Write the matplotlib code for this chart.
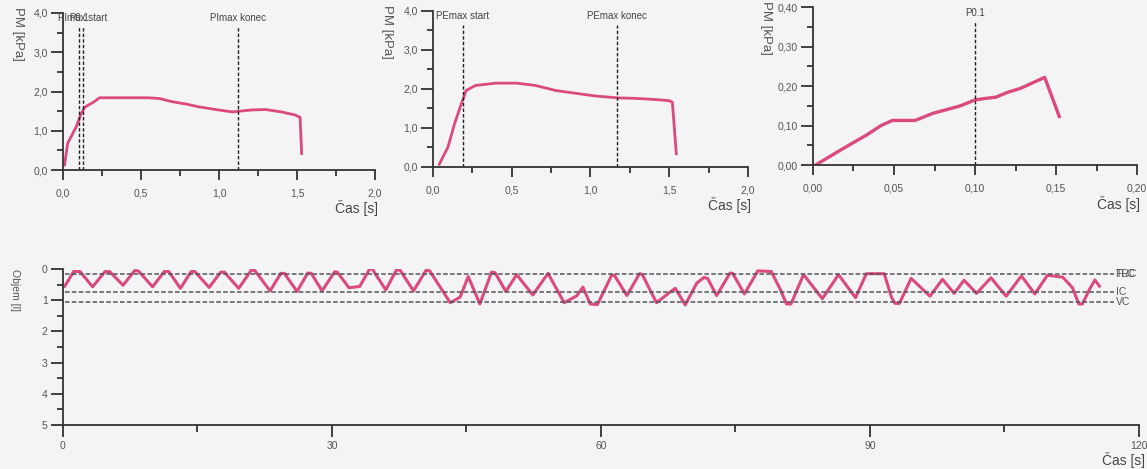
import numpy as np
import matplotlib
matplotlib.use("Agg")
import matplotlib.pyplot as plt
from matplotlib.ticker import MultipleLocator, FuncFormatter

plt.rcParams['font.family'] = ['Liberation Sans', 'DejaVu Sans']

PINK = '#dc4a7d'
GRAY = '#555555'
BG = '#f4f4f6'

# PImax (inspiracni tlak)
pi_t = [0.01, 0.03, 0.085, 0.117, 0.14, 0.20, 0.234, 0.40, 0.55, 0.62, 0.70, 0.79,
        0.87, 0.98, 1.085, 1.21, 1.30, 1.40, 1.49, 1.52, 1.53]
pi_p = [0.13, 0.68, 1.10, 1.44, 1.60, 1.74, 1.84, 1.84, 1.84, 1.82, 1.74, 1.68,
        1.61, 1.54, 1.48, 1.53, 1.54, 1.48, 1.40, 1.34, 0.42]
pi_marks = [0.103, 0.126, 1.124]
pi_labels = ['P0.1', 'PImax start', 'PImax konec']

# PEmax (expiracni tlak)
pe_t = [0.04, 0.095, 0.137, 0.18, 0.21, 0.27, 0.40, 0.53, 0.65, 0.78, 0.905, 1.03,
        1.18, 1.28, 1.41, 1.50, 1.52, 1.545]
pe_p = [0.07, 0.51, 1.11, 1.62, 1.96, 2.09, 2.15, 2.15, 2.09, 1.96, 1.89, 1.82,
        1.77, 1.76, 1.73, 1.70, 1.66, 0.34]
pe_marks = [0.19, 1.17]
pe_labels = ['PEmax start', 'PEmax konec']

# P0.1
p01_t = [0.0015, 0.017, 0.033, 0.042, 0.049, 0.063, 0.074, 0.083, 0.091, 0.100,
         0.107, 0.113, 0.120, 0.128, 0.136, 0.143, 0.152]
p01_p = [0.0, 0.038, 0.076, 0.100, 0.113, 0.113, 0.131, 0.141, 0.150, 0.165,
         0.169, 0.172, 0.184, 0.194, 0.209, 0.222, 0.123]

# objem v case
vol_t = [0.2, 1.2, 1.9, 3.3, 4.7, 5.2, 6.7, 8.0, 8.4, 10.0, 11.3, 11.8, 13.1, 14.3, 14.7,
         16.3, 17.6, 18.0, 19.6, 21.0, 21.4, 23.1, 24.3, 24.7, 26.1, 27.3, 27.7, 28.9,
         30.3, 30.6, 31.9, 33.1, 34.2, 34.5, 36.0, 37.2, 37.6, 39.1, 40.5, 40.9, 43.2,
         44.3, 45.2, 46.5, 47.8, 48.2, 49.4, 50.6, 52.4, 54.1, 55.9, 57.3, 58.0, 58.8,
         59.6, 61.2, 61.5, 62.9, 64.3, 64.6, 66.2, 67.8, 68.3, 69.4, 70.7, 71.5, 71.9,
         72.9, 74.4, 74.7, 76.0, 77.5, 79.0, 80.0, 80.7, 81.2, 82.6, 84.7, 86.5, 88.4,
         89.6, 91.6, 92.4, 92.8, 93.3, 94.6, 96.7, 98.1, 99.4, 100.5, 101.9, 103.5,
         105.2, 106.9, 108.4, 109.8, 111.5, 112.6, 113.3, 113.7, 114.5, 115.1, 115.6]
vol_v = [0.55, 0.08, 0.08, 0.57, 0.08, 0.08, 0.52, 0.05, 0.06, 0.57, 0.08, 0.08, 0.62, 0.08,
         0.08, 0.59, 0.10, 0.10, 0.62, 0.04, 0.05, 0.70, 0.14, 0.14, 0.72, 0.13, 0.14,
         0.70, 0.09, 0.10, 0.60, 0.56, 0.00, 0.00, 0.67, 0.03, 0.04, 0.70, 0.04, 0.06,
         1.08, 0.90, 0.24, 1.12, 0.10, 0.12, 0.72, 0.18, 0.83, 0.14, 1.08, 0.86, 0.58,
         1.12, 1.14, 0.20, 0.20, 0.85, 0.15, 0.17, 1.08, 0.72, 0.62, 1.15, 0.45, 0.27,
         0.30, 0.85, 0.13, 0.14, 0.80, 0.06, 0.08, 0.65, 1.12, 1.12, 0.18, 0.95, 0.18,
         0.92, 0.15, 0.15, 0.90, 1.10, 1.10, 0.30, 0.87, 0.33, 0.78, 0.36, 0.78, 0.28,
         0.87, 0.22, 0.80, 0.20, 0.26, 0.60, 1.12, 1.12, 0.65, 0.35, 0.55]
ref_levels = [0.17, 0.73, 1.06]
ref_labels = [['TLC', 'FRC'], ['IC'], ['VC']]


def comma(dec):
    return FuncFormatter(lambda v, p: ('{:.%df}' % dec).format(v).replace('.', ','))


def style(ax, xmaj, xmin, ymaj, ymin, xdec, ydec):
    ax.set_facecolor(BG)
    for s in ['top', 'right']:
        ax.spines[s].set_visible(False)
    for s in ['left', 'bottom']:
        ax.spines[s].set_color('#333333')
        ax.spines[s].set_linewidth(1.3)
    ax.xaxis.set_major_locator(MultipleLocator(xmaj))
    ax.xaxis.set_minor_locator(MultipleLocator(xmin))
    ax.yaxis.set_major_locator(MultipleLocator(ymaj))
    ax.yaxis.set_minor_locator(MultipleLocator(ymin))
    if xdec is not None:
        ax.xaxis.set_major_formatter(comma(xdec))
    if ydec is not None:
        ax.yaxis.set_major_formatter(comma(ydec))
    ax.tick_params(which='major', direction='out', length=7, width=1.3, color='#333333',
                   labelsize=7.5, labelcolor=GRAY)
    ax.tick_params(which='minor', direction='out', length=4, width=1.3, color='#333333')
    ax.tick_params(axis='x', which='major', pad=6)
    ax.tick_params(axis='y', which='major', length=9, pad=2)


fig = plt.figure(figsize=(11.47, 4.69), dpi=100)
fig.patch.set_facecolor(BG)

ax1 = fig.add_axes([0.0549, 0.6375, 0.272, 0.3348])
ax2 = fig.add_axes([0.3775, 0.644, 0.2746, 0.3326])
ax3 = fig.add_axes([0.7088, 0.648, 0.2825, 0.337])
ax4 = fig.add_axes([0.0549, 0.0938, 0.938, 0.3326])

# top panels
for ax, t, p, marks, labels in [(ax1, pi_t, pi_p, pi_marks, pi_labels),
                                (ax2, pe_t, pe_p, pe_marks, pe_labels)]:
    ax.plot(t, p, color=PINK, lw=2.0, solid_joinstyle='round')
    ax.set_xlim(0, 2.0)
    ax.set_ylim(0, 4.0)
    style(ax, 0.5, 0.25, 1.0, 0.5, 1, 1)
    for m, lab in zip(marks, labels):
        ax.plot([m, m], [0, 3.64], color='#222222', lw=1.0, ls=(0, (2.5, 1.5)))
        ax.text(m, 3.88, lab, ha='center', va='center', fontsize=7, color='#444444')

ax3.plot(p01_t, p01_p, color=PINK, lw=2.4, solid_joinstyle='round')
ax3.set_xlim(0, 0.20)
ax3.set_ylim(0, 0.40)
style(ax3, 0.05, 0.025, 0.10, 0.05, 2, 2)
ax3.plot([0.10, 0.10], [0, 0.364], color='#222222', lw=1.0, ls=(0, (2.5, 1.5)))
ax3.text(0.10, 0.385, 'P0.1', ha='center', va='center', fontsize=7, color='#444444')

for ax in [ax1, ax2, ax3]:
    ax.text(-0.145, 1.04, 'PM [kPa]', rotation=-90, ha='center', va='top',
            fontsize=9.5, color=GRAY, transform=ax.transAxes)
    ax.text(1.01, -0.245, 'Čas [s]', ha='right', va='center', fontsize=10,
            color='#444444', transform=ax.transAxes)

# bottom panel
ax4.plot(vol_t, vol_v, color=PINK, lw=2.2, solid_joinstyle='round')
for lvl, labs in zip(ref_levels, ref_labels):
    ax4.plot([0.2, 117.2], [lvl, lvl], color='#555555', lw=1.1, ls=(0, (3, 1.5)))
    for lab in labs:
        ax4.text(117.4, lvl, lab, ha='left', va='center', fontsize=7.5, color=GRAY)
ax4.set_xlim(0, 120)
ax4.set_ylim(5, 0)
style(ax4, 30, 15, 1, 0.5, None, None)
ax4.tick_params(axis='x', which='major', length=8.5, pad=3)
ax4.tick_params(axis='x', which='minor', length=5)
ax4.text(-0.045, 1.0, 'Objem [l]', rotation=-90, ha='center', va='top',
         fontsize=7.5, color=GRAY, transform=ax4.transAxes)
ax4.text(1.006, -0.225, 'Čas [s]', ha='right', va='center', fontsize=10,
         color='#444444', transform=ax4.transAxes)

fig.savefig('out.png', dpi=100, facecolor=BG)
